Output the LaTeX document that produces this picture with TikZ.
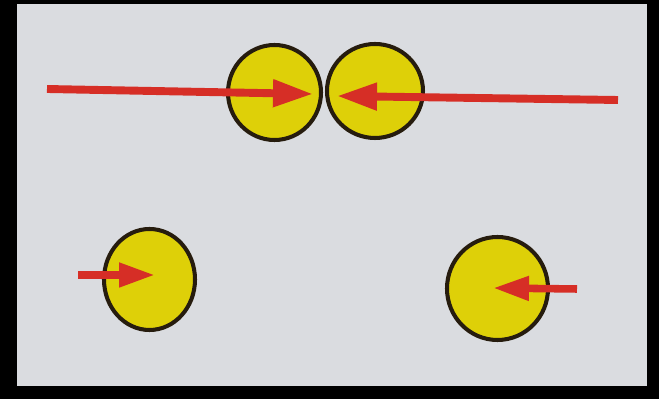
\documentclass[tikz,border=0pt]{standalone}
\usetikzlibrary{arrows.meta,shapes.geometric}
\definecolor{ballyellow}{RGB}{222,208,8}
\definecolor{pushred}{RGB}{214,46,38}
\definecolor{rimbrown}{RGB}{38,28,14}
\definecolor{paper}{RGB}{218,220,224}
\tikzset{
  ball/.style={ellipse, draw=rimbrown, line width=2.3pt, fill=ballyellow, inner sep=0pt},
  push/.style={draw=pushred, line width=4.5pt, -{Triangle[length=0.8cm,width=0.52cm]}},
  nudge/.style={draw=pushred, line width=4.3pt, -{Triangle[length=0.72cm,width=0.46cm]}}
}
\begin{document}
\begin{tikzpicture}
\useasboundingbox (0,0) rectangle (13.18,-7.98);
\fill[black] (0,0) rectangle (13.18,-7.98);
\fill[paper] (0.34,-0.08) rectangle (12.94,-7.72);
\node[ball, minimum width=1.86cm, minimum height=1.90cm] (topleft) at (5.49,-1.85) {};
\node[ball, minimum width=1.92cm, minimum height=1.88cm] (topright) at (7.50,-1.82) {};
\node[ball, minimum width=1.82cm, minimum height=2.02cm] (lowleft) at (2.99,-5.59) {};
\node[ball, minimum width=2.02cm, minimum height=2.06cm] (lowright) at (9.95,-5.77) {};
\coordinate (tailA) at (0.94,-1.78);
\coordinate (tipA) at (6.26,-1.88);
\coordinate (tailB) at (12.36,-2.00);
\coordinate (tipB) at (6.74,-1.92);
\coordinate (tailC) at (1.56,-5.50);
\coordinate (tipC) at (3.10,-5.50);
\coordinate (tailD) at (11.54,-5.78);
\coordinate (tipD) at (9.86,-5.76);
\draw[push] (tailA) -- (tipA);
\draw[push] (tailB) -- (tipB);
\draw[nudge] (tailC) -- (tipC);
\draw[nudge] (tailD) -- (tipD);
\end{tikzpicture}
\end{document}
